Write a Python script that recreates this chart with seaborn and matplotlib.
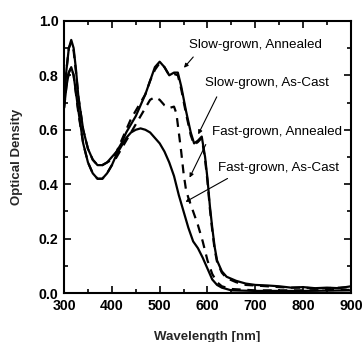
import matplotlib
matplotlib.use("Agg")
import matplotlib.pyplot as plt
import seaborn as sns
import pandas as pd
from matplotlib.ticker import MultipleLocator

# ---------------- data ----------------
wl_sa = [300, 305, 310, 315, 320, 325, 330, 340, 350, 360, 370, 380, 390, 400, 410, 420, 430, 440, 450, 460,
         470, 480, 490, 500, 510, 520, 530, 538, 545, 555, 565, 572, 580, 588, 595, 600, 605, 610, 615, 620,
         630, 640, 660, 680, 700, 725, 750, 775, 800, 825, 850, 875, 900]
od_sa = [0.72, 0.82, 0.90, 0.93, 0.90, 0.82, 0.72, 0.60, 0.53, 0.49, 0.47, 0.47, 0.48, 0.50, 0.52, 0.55, 0.59, 0.62, 0.65, 0.69,
         0.73, 0.78, 0.83, 0.85, 0.83, 0.80, 0.81, 0.81, 0.76, 0.67, 0.59, 0.55, 0.56, 0.575, 0.50, 0.42, 0.32, 0.24, 0.17, 0.12,
         0.08, 0.06, 0.045, 0.035, 0.03, 0.028, 0.025, 0.02, 0.022, 0.018, 0.02, 0.018, 0.025]

wl_sc = [300, 305, 310, 315, 320, 325, 330, 340, 350, 360, 370, 380, 390, 400, 410, 420, 430, 440, 450, 460,
         470, 480, 490, 500, 510, 520, 530, 538, 545, 555, 565, 572, 580, 588, 595, 600, 605, 610, 615, 620,
         630, 640, 660, 680, 700, 725, 750, 775, 800, 825, 850, 875, 900]
od_sc = [0.72, 0.82, 0.90, 0.92, 0.89, 0.81, 0.72, 0.60, 0.53, 0.49, 0.47, 0.47, 0.48, 0.49, 0.52, 0.56, 0.60, 0.64, 0.67, 0.70,
         0.73, 0.78, 0.82, 0.845, 0.83, 0.80, 0.805, 0.80, 0.75, 0.66, 0.58, 0.545, 0.555, 0.57, 0.49, 0.41, 0.31, 0.23, 0.16, 0.115,
         0.075, 0.055, 0.04, 0.03, 0.028, 0.025, 0.022, 0.02, 0.02, 0.017, 0.018, 0.02, 0.022]

wl_fa = [300, 305, 310, 315, 320, 330, 340, 350, 360, 370, 380, 390, 400, 410, 420, 430, 440, 450, 460, 470,
         480, 490, 500, 510, 520, 530, 535, 540, 545, 550, 555, 560, 570, 580, 590, 600, 610, 620, 630, 650,
         700, 800, 900]
od_fa = [0.68, 0.76, 0.81, 0.83, 0.80, 0.66, 0.55, 0.48, 0.44, 0.42, 0.42, 0.44, 0.47, 0.50, 0.53, 0.56, 0.59, 0.62, 0.65, 0.68,
         0.71, 0.72, 0.71, 0.69, 0.68, 0.685, 0.66, 0.59, 0.52, 0.44, 0.38, 0.35, 0.30, 0.25, 0.19, 0.12, 0.07, 0.04, 0.025, 0.015,
         0.01, 0.01, 0.012]

wl_fc = [300, 305, 310, 315, 320, 330, 340, 350, 360, 370, 380, 390, 400, 410, 420, 430, 440, 450, 460, 470,
         480, 490, 500, 510, 520, 530, 540, 550, 560, 570, 580, 590, 600, 610, 620, 630, 650, 700, 800, 900]
od_fc = [0.68, 0.76, 0.81, 0.83, 0.80, 0.67, 0.55, 0.48, 0.44, 0.42, 0.42, 0.44, 0.47, 0.51, 0.54, 0.57, 0.59, 0.60, 0.605, 0.60,
         0.59, 0.57, 0.55, 0.52, 0.48, 0.43, 0.36, 0.30, 0.24, 0.19, 0.165, 0.13, 0.09, 0.05, 0.03, 0.02, 0.01, 0.008, 0.008, 0.01]

labels = ["Slow-grown, Annealed", "Slow-grown, As-Cast", "Fast-grown, Annealed", "Fast-grown, As-Cast"]
label_xy = [(700, 0.91), (725, 0.77), (746, 0.59), (748, 0.46)]
arrow_from = [(574, 0.875), (622, 0.73), (599, 0.555), (647, 0.426)]
arrow_to = [(547, 0.82), (578, 0.574), (560, 0.415), (549, 0.33)]

x_ticks = [300, 400, 500, 600, 700, 800, 900]
y_ticks = [0.0, 0.2, 0.4, 0.6, 0.8, 1.0]

# ---------------- plot ----------------
sns.set_style("ticks")
plt.rcParams['font.family'] = ['Liberation Sans', 'DejaVu Sans']

fig = plt.figure(figsize=(3.64, 3.42), dpi=100)
ax = fig.add_axes([0.176, 0.143, 0.788, 0.796])

curves = [(wl_sa, od_sa, "-"), (wl_sc, od_sc, (0, (4, 3))), (wl_fa, od_fa, (0, (4, 3))), (wl_fc, od_fc, "-")]
for (w, o, ls) in curves:
    sns.lineplot(x=w, y=o, ax=ax, color="black", lw=1.6, linestyle=ls, sort=False)

for lab, (tx, ty), (fx, fy), (ex, ey) in zip(labels, label_xy, arrow_from, arrow_to):
    ax.text(tx, ty, lab, ha="center", va="center", fontsize=9.6, color="black")
    ax.annotate("", xy=(ex, ey), xytext=(fx, fy),
                arrowprops=dict(arrowstyle="-|>", color="black", lw=0.8, mutation_scale=6))

ax.set_xlim(300, 900)
ax.set_ylim(0.0, 1.0)
ax.set_xticks(x_ticks)
ax.set_yticks(y_ticks)
ax.set_xticklabels([str(t) for t in x_ticks])
ax.set_yticklabels([f"{t:.1f}" for t in y_ticks])
ax.xaxis.set_minor_locator(MultipleLocator(50))
ax.yaxis.set_minor_locator(MultipleLocator(0.1))
ax.tick_params(which="both", direction="in", top=True, right=True, width=1.2, colors="black",
               labelsize=10.2)
ax.tick_params(axis="x", which="major", pad=4.5)
ax.tick_params(axis="y", which="major", pad=4)
ax.tick_params(which="major", length=5)
ax.tick_params(which="minor", length=3)
for lbl in ax.get_xticklabels() + ax.get_yticklabels():
    lbl.set_fontweight("bold")
for sp in ax.spines.values():
    sp.set_linewidth(1.5)
    sp.set_color("black")
ax.set_xlabel("Wavelength [nm]", fontsize=9.5, fontweight="bold", labelpad=13)
ax.set_ylabel("Optical Density", fontsize=9.5, fontweight="bold", labelpad=11)

fig.savefig("out.png", dpi=100)
